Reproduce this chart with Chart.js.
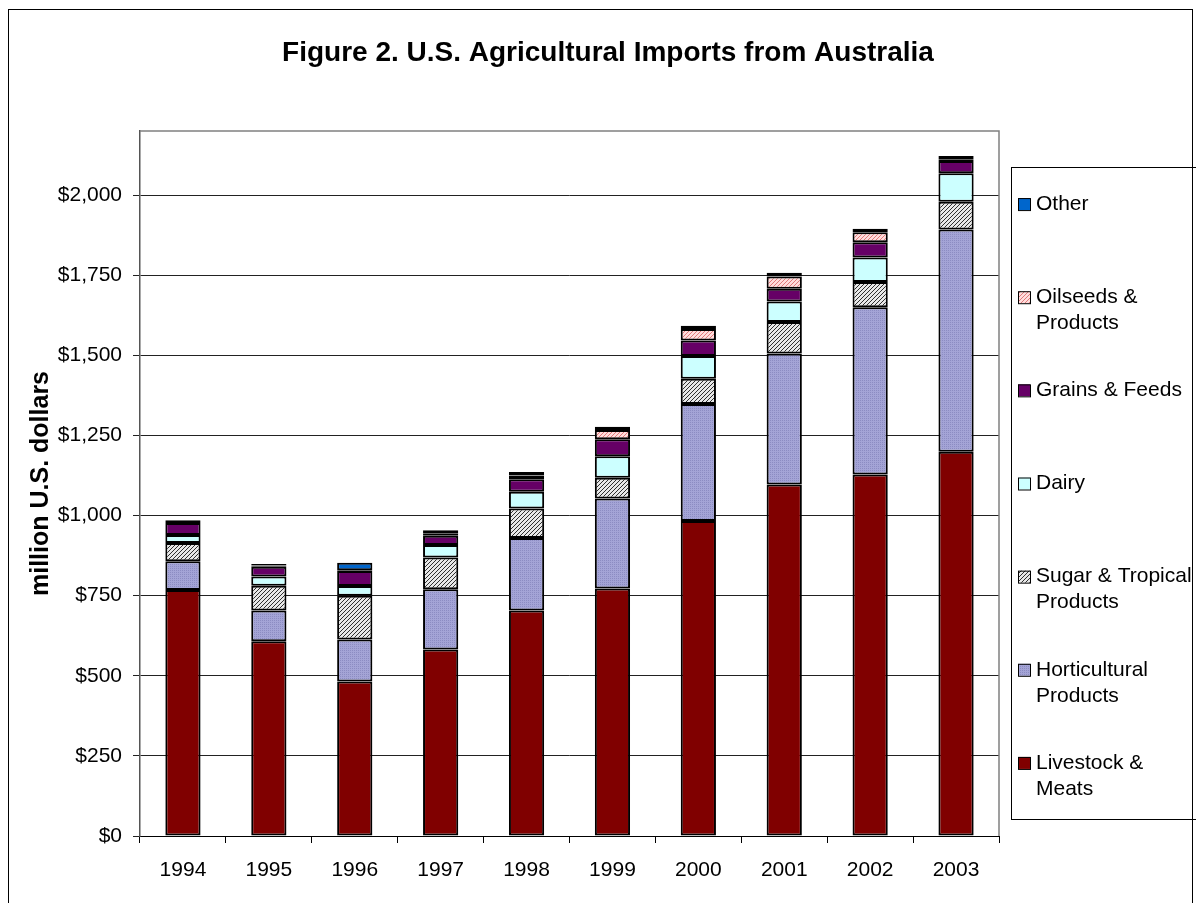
<!DOCTYPE html>
<html lang="en">
<head>
    <meta charset="UTF-8">
    <title>U.S. Agricultural Imports from Australia</title>
    <script src="https://cdn.jsdelivr.net/npm/chart.js"></script>
    <style>
        html, body { margin: 0; padding: 0; background: #fff; }
        #wrap { width: 1196px; height: 903px; }
    </style>
</head>
<body>
<div id="wrap"><canvas id="importsChart" width="1196" height="903"></canvas></div>

<script>
    // Years and import values (million U.S. dollars), one array per product group
    const years = ["1994", "1995", "1996", "1997", "1998", "1999", "2000", "2001", "2002", "2003"];
    const livestock    = [768, 608, 482, 582, 704, 772, 983, 1097, 1128, 1199];
    const horticulture = [89, 96, 131, 188, 226, 281, 365, 409, 522, 694];
    const sugar        = [57, 77, 137, 99, 92, 65, 79, 98, 79, 86];
    const dairy        = [25, 29, 30, 39, 52, 67, 71, 64, 76, 89];
    const grains       = [38, 30, 47, 29, 39, 53, 48, 40, 48, 38];
    const oilseeds     = [3, 4, 2, 8, 12, 29, 36, 38, 31, 4];
    const other        = [5, 5, 24, 9, 11, 10, 10, 12, 11, 12];
    const yTicks       = [0, 250, 500, 750, 1000, 1250, 1500, 1750, 2000];

    const FONT = "'Liberation Sans', Arial, Helvetica, sans-serif";
    Chart.defaults.font.family = FONT;
    Chart.defaults.color = "#000";

    // small tiled fills, like the old spreadsheet patterns
    function makePattern(bg, fg, pixels) {
        const c = document.createElement("canvas");
        c.width = 4; c.height = 4;
        const g = c.getContext("2d");
        g.fillStyle = bg;
        g.fillRect(0, 0, 4, 4);
        g.fillStyle = fg;
        pixels.forEach(p => g.fillRect(p[0], p[1], 1, 1));
        return g.createPattern(c, "repeat");
    }
    const ctx = document.getElementById("importsChart").getContext("2d");
    const hortFill  = makePattern("#a4a4d6", "#8c8cc2", [[0, 0], [2, 2], [2, 0], [0, 2]]);
    const sugarFill = makePattern("#e8e8e8", "#303030", [[0, 3], [1, 2], [2, 1], [3, 0]]);
    const oilFill   = makePattern("#ffdcdc", "#e07a7a", [[0, 3], [1, 2], [2, 1], [3, 0]]);

    const series = [
        { name: "Livestock & Meats",         lines: ["Livestock &", "Meats"],         data: livestock,    fill: "#800000" },
        { name: "Horticultural Products",    lines: ["Horticultural", "Products"],    data: horticulture, fill: hortFill },
        { name: "Sugar & Tropical Products", lines: ["Sugar & Tropical", "Products"], data: sugar,        fill: sugarFill },
        { name: "Dairy",                     lines: ["Dairy"],                        data: dairy,        fill: "#ccffff" },
        { name: "Grains & Feeds",            lines: ["Grains & Feeds"],               data: grains,       fill: "#660066" },
        { name: "Oilseeds & Products",       lines: ["Oilseeds &", "Products"],       data: oilseeds,     fill: oilFill },
        { name: "Other",                     lines: ["Other"],                        data: other,        fill: "#0066cc" }
    ];

    const chartTitle = "Figure 2. U.S. Agricultural Imports from Australia";

    // outer frame, title, plot box edges and the right-hand legend
    const decor = {
        id: "decor",
        beforeDraw(chart) {
            const c = chart.ctx;
            c.save();
            c.fillStyle = "#fff";
            c.fillRect(0, 0, chart.width, chart.height);
            c.strokeStyle = "#000";
            c.lineWidth = 1;
            c.strokeRect(8.5, 9.5, 1184, 910);
            c.font = "bold 28px " + FONT;
            c.fillStyle = "#000";
            c.textAlign = "center";
            c.textBaseline = "middle";
            c.fillText(chartTitle, 608, 53);
            c.restore();
        },
        beforeDatasetsDraw(chart) {
            const a = chart.chartArea, c = chart.ctx;
            c.save();
            c.strokeStyle = "#808080";
            c.lineWidth = 1.5;
            c.beginPath();
            c.moveTo(a.left, a.top);
            c.lineTo(a.right, a.top);
            c.lineTo(a.right, a.bottom);
            c.stroke();
            c.restore();
        },
        afterDraw(chart) {
            const c = chart.ctx;
            const box = { x: 1011.5, y: 167.5, w: 200, h: 652 };
            c.save();
            c.strokeStyle = "#000";
            c.lineWidth = 1;
            c.strokeRect(box.x, box.y, box.w, box.h);
            c.font = "21px " + FONT;
            c.textBaseline = "middle";
            const items = series.slice().reverse();
            const slot = box.h / items.length;
            items.forEach((s, i) => {
                const y0 = box.y + slot * i + slot / 2 - 10;
                c.fillStyle = s.fill;
                c.fillRect(1018, y0 - 6, 12, 12);
                c.strokeStyle = "#000";
                c.strokeRect(1018.5, y0 - 5.5, 12, 12);
                c.fillStyle = "#000";
                s.lines.forEach((t, k) => c.fillText(t, 1036, y0 + k * 26));
            });
            c.restore();
        }
    };

    new Chart(ctx, {
        type: "bar",
        data: {
            labels: years,
            datasets: series.map(s => ({
                label: s.name,
                data: s.data,
                backgroundColor: s.fill,
                borderColor: "#000",
                borderWidth: 2,
                borderSkipped: false,
                categoryPercentage: 1,
                barPercentage: 0.41
            }))
        },
        options: {
            responsive: false,
            animation: false,
            layout: { padding: { left: 0, right: 197, top: 131, bottom: 0 } },
            plugins: {
                legend: { display: false },
                tooltip: { enabled: false },
                title: { display: false }
            },
            scales: {
                x: {
                    stacked: true,
                    grid: { drawOnChartArea: false, drawTicks: true, tickLength: 7, offset: true, color: "#000" },
                    border: { color: "#000", width: 1 },
                    ticks: { font: { size: 21 }, padding: 15, maxRotation: 0 },
                    afterFit(scale) { scale.height = 67; }
                },
                y: {
                    stacked: true,
                    min: 0,
                    max: 2200,
                    grid: { color: "#222", lineWidth: 1, tickLength: 7 },
                    border: { color: "#555", width: 1.5 },
                    ticks: {
                        font: { size: 21 },
                        padding: 11,
                        autoSkip: false,
                        callback: v => "$" + v.toLocaleString("en-US")
                    },
                    afterBuildTicks(scale) {
                        scale.ticks = yTicks.map(v => ({ value: v }));
                    },
                    title: {
                        display: true,
                        text: "million U.S. dollars",
                        font: { size: 25, weight: "bold" },
                        padding: { top: 26, bottom: 0 }
                    },
                    afterFit(scale) { scale.width = 140; }
                }
            }
        },
        plugins: [decor]
    });
</script>
</body>
</html>
